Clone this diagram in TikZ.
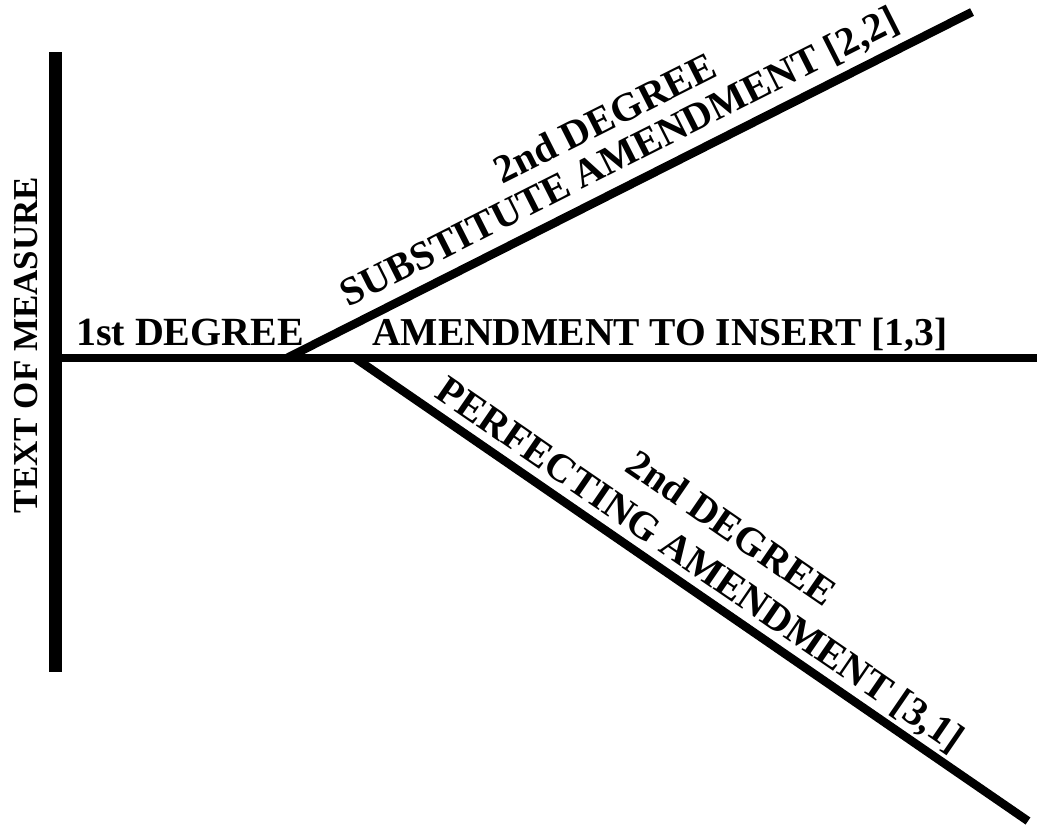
\documentclass[tikz,border=0pt]{standalone}
\usepackage{fontspec}
\setmainfont{Liberation Serif}
\usetikzlibrary{calc}
\tikzset{
  bar/.style={line width=13pt, line cap=butt},
  rule/.style={line width=8.5pt, line cap=butt},
  lbl/.style={font=\bfseries\fontsize{40}{44}\selectfont, inner sep=0pt, text=black},
  smlbl/.style={font=\bfseries\fontsize{35}{40}\selectfont, inner sep=0pt, text=black},
}
\begin{document}
\begin{tikzpicture}[x=1pt,y=-1pt]
\useasboundingbox (0,0) rectangle (1037,831);
\fill[white] (0,0) rectangle (1037,831);
% coordinates
\coordinate (V0) at (55,52);
\coordinate (V1) at (55,672);
\coordinate (H0) at (55,358);
\coordinate (H1) at (1037,358);
\coordinate (O1) at (287,358);
\coordinate (E1) at (972,12);
\coordinate (O2) at (355,358);
\coordinate (E2) at (1028,821);
% lines
\draw[bar] (V0) -- (V1);
\draw[rule] (H0) -- (H1);
\draw[rule] (O1) -- (E1);
\draw[rule] (O2) -- (E2);
% labels
\node[smlbl, rotate=90, anchor=base] (tom) at (37,345) {TEXT OF MEASURE};
\node[lbl, anchor=base west, font=\bfseries\fontsize{40}{44}\selectfont] (first) at (76,345) {1st DEGREE};
\node[lbl, anchor=base west, font=\bfseries\fontsize{39.5}{44}\selectfont] (ins) at (372,345) {AMENDMENT TO INSERT [1,3]};
\node[lbl, rotate=26.8, anchor=base] (sub) at (625,168) {SUBSTITUTE AMENDMENT [2,2]};
\node[lbl, rotate=26.8, anchor=base] (sub2) at (611,130) {2nd DEGREE};
\node[lbl, rotate=-34.5, anchor=base] (perf) at (693,575) {PERFECTING AMENDMENT [3,1]};
\node[lbl, rotate=-34.5, anchor=base] (perf2) at (724,539) {2nd DEGREE};
\end{tikzpicture}
\end{document}
